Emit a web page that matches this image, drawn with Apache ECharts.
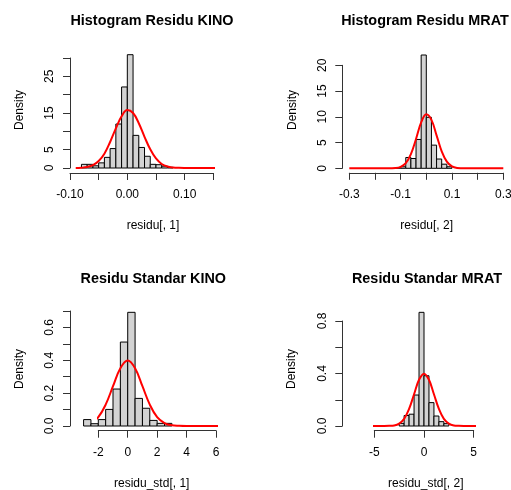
<!DOCTYPE html>
<html>
<head>
<meta charset="utf-8">
<script src="https://cdn.jsdelivr.net/npm/echarts@6/dist/echarts.min.js"></script>
<style>
  html, body { margin: 0; padding: 0; background: #fff; }
  #main { width: 511px; height: 490px; }
</style>
</head>
<body>
<div id="main"></div>
<script>
// histogram bin edges and densities
var edgesKino = [-0.08, -0.07, -0.06, -0.05, -0.04, -0.03, -0.02, -0.01, 0, 0.01, 0.02, 0.03, 0.04, 0.05, 0.06, 0.07, 0.08];
var densKino = [1.0, 1.0, 0.6, 1.4, 2.9, 5.3, 12.0, 22.1, 30.9, 8.9, 5.6, 3.2, 1.0, 0.9, 0.5, 0.2];

var edgesMrat = [-0.12, -0.10, -0.08, -0.06, -0.04, -0.02, 0, 0.02, 0.04, 0.06, 0.08, 0.10];
var densMrat = [0.15, 0.3, 2.1, 1.9, 5.6, 22.0, 9.9, 4.5, 1.8, 0.8, 0.3];

var edgesStdKino = [-3, -2.5, -2, -1.5, -1, -0.5, 0, 0.5, 1, 1.5, 2, 2.5, 3];
var densStdKino = [0.039, 0.014, 0.039, 0.101, 0.225, 0.511, 0.692, 0.168, 0.108, 0.034, 0.016, 0.016];

var edgesStdMrat = [-2.5, -2, -1.5, -1, -0.5, 0, 0.5, 1, 1.5, 2, 2.5];
var densStdMrat = [0.02, 0.08, 0.09, 0.236, 0.866, 0.383, 0.178, 0.076, 0.033, 0.018];

// red density curves
var curveKinoX = [-0.09, -0.08, -0.07, -0.06, -0.05, -0.04, -0.03, -0.02, -0.01, 0, 0.01, 0.02, 0.03, 0.04, 0.05, 0.06, 0.07, 0.08, 0.09, 0.10, 0.12, 0.15, 0.18];
var curveKinoY = [0.02, 0.08, 0.27, 0.76, 1.9, 3.9, 7.1, 10.8, 14.1, 15.8, 15.0, 12.2, 8.5, 5.1, 2.6, 1.1, 0.4, 0.13, 0.04, 0.01, 0, 0, 0];

var curveMratX = [-0.3, -0.2, -0.15, -0.12, -0.10, -0.08, -0.06, -0.04, -0.02, 0, 0.02, 0.04, 0.06, 0.08, 0.10, 0.12, 0.15, 0.2, 0.3];
var curveMratY = [0, 0, 0, 0.06, 0.29, 1.02, 2.77, 5.7, 8.9, 10.5, 9.4, 6.4, 3.3, 1.3, 0.38, 0.08, 0, 0, 0];

var curveStdKinoX = [-3.52, -3, -2.5, -2, -1.5, -1, -0.5, 0, 0.5, 1, 1.5, 2, 2.5, 3, 3.5, 4, 5, 6, 7.07];
var curveStdKinoY = [0.001, 0.004, 0.018, 0.054, 0.13, 0.242, 0.352, 0.399, 0.352, 0.242, 0.13, 0.054, 0.018, 0.004, 0.001, 0, 0, 0, 0];

var curveStdMratX = [-7.5, -5, -4, -3.5, -3, -2.5, -2, -1.5, -1, -0.5, 0, 0.5, 1, 1.5, 2, 2.5, 3, 3.5, 4, 5, 8];
var curveStdMratY = [0, 0, 0, 0.001, 0.004, 0.018, 0.054, 0.13, 0.242, 0.352, 0.399, 0.352, 0.242, 0.13, 0.054, 0.018, 0.004, 0.001, 0, 0, 0];

// tick labels (blank = hidden by R because of overlap)
var xLabelsKino = ['-0.10', '', '0.00', '', '0.10', ''];
var yLabelsKino = ['0', '5', '', '15', '', '25', ''];
var xLabelsMrat = ['-0.3', '', '-0.1', '', '0.1', '', '0.3'];
var yLabelsMrat = ['0', '5', '10', '15', '20'];
var xLabelsStdKino = ['-2', '0', '2', '4', '6'];
var yLabelsStdKino = ['0.0', '', '0.2', '', '0.4', '', '0.6', ''];
var xLabelsStdMrat = ['-5', '0', '5'];
var yLabelsStdMrat = ['0.0', '', '0.4', '', '0.8'];

var titles = ['Histogram Residu KINO', 'Histogram Residu MRAT', 'Residu Standar KINO', 'Residu Standar MRAT'];
var xNames = ['residu[, 1]', 'residu[, 2]', 'residu_std[, 1]', 'residu_std[, 2]'];

var FONT = '"Liberation Sans", Arial, sans-serif';
var AXIS_COLOR = '#333';

var panels = [
    {
        edges: edgesKino, dens: densKino, cx: curveKinoX, cy: curveKinoY
        , xMin: -0.1, xMax: 0.15, xStep: 0.05, xLabels: xLabelsKino
        , yMin: 0, yMax: 30, yStep: 5, yLabels: yLabelsKino
        , grid: { left: 70, top: 58, width: 143.3, height: 110 }
        , xOff: 5, yOff: 0, xMargin: 16
        , titlePos: [152, 21.5], xNamePos: [153, 226], yNamePos: [20, 110]
    }
    , {
        edges: edgesMrat, dens: densMrat, cx: curveMratX, cy: curveMratY
        , xMin: -0.3, xMax: 0.3, xStep: 0.1, xLabels: xLabelsMrat
        , yMin: 0, yMax: 20, yStep: 5, yLabels: yLabelsMrat
        , grid: { left: 349.3, top: 65.3, width: 154, height: 103 }
        , xOff: 4.5, yOff: 7, xMargin: 16
        , titlePos: [425, 21.5], xNamePos: [426.7, 226], yNamePos: [292.3, 110]
    }
    , {
        edges: edgesStdKino, dens: densStdKino, cx: curveStdKinoX, cy: curveStdKinoY
        , xMin: -2, xMax: 6, xStep: 2, xLabels: xLabelsStdKino
        , yMin: 0, yMax: 0.7, yStep: 0.1, yLabels: yLabelsStdKino
        , grid: { left: 98.3, top: 311, width: 117.7, height: 115 }
        , xOff: 4.7, yOff: 28.3, xMargin: 16
        , titlePos: [153.3, 279], xNamePos: [151.7, 484], yNamePos: [20, 369]
    }
    , {
        edges: edgesStdMrat, dens: densStdMrat, cx: curveStdMratX, cy: curveStdMratY
        , xMin: -5, xMax: 5, xStep: 5, xLabels: xLabelsStdMrat
        , yMin: 0, yMax: 0.8, yStep: 0.2, yLabels: yLabelsStdMrat
        , grid: { left: 374.3, top: 321, width: 99.4, height: 105 }
        , xOff: 4.7, yOff: 32, xMargin: 16
        , titlePos: [427, 279], xNamePos: [425.8, 484], yNamePos: [292, 369]
    }
];

function labelFormatter(labels, min, step) {
    return function (v) {
        var i = Math.round((v - min) / step);
        return labels[i] !== undefined ? labels[i] : '';
    };
}

function renderBin(params, api) {
    var p0 = api.coord([api.value(0), api.value(2)]);
    var p1 = api.coord([api.value(1), 0]);
    return {
        type: 'rect'
        , shape: { x: p0[0], y: p0[1], width: p1[0] - p0[0], height: p1[1] - p0[1] }
        , style: { fill: '#D3D3D3', stroke: '#000', lineWidth: 1 }
    };
}

var option = {
    backgroundColor: '#fff'
    , animation: false
    , grid: []
    , xAxis: []
    , yAxis: []
    , series: []
    , graphic: []
};

for (var i = 0; i < panels.length; i++) {
    var p = panels[i];
    option.grid.push({
        left: p.grid.left, top: p.grid.top, width: p.grid.width, height: p.grid.height
        , containLabel: false, outerBoundsMode: 'none'
    });
    option.xAxis.push({
        type: 'value', gridIndex: i, position: 'bottom'
        , min: p.xMin, max: p.xMax, interval: p.xStep
        , offset: p.xOff
        , axisLine: { show: true, onZero: false, lineStyle: { color: AXIS_COLOR, width: 1 } }
        , axisTick: { show: true, length: 7, lineStyle: { color: AXIS_COLOR, width: 1 } }
        , splitLine: { show: false }
        , axisLabel: {
            show: true, interval: 0, margin: p.xMargin, hideOverlap: false
            , showMinLabel: true, showMaxLabel: true
            , color: '#000', fontSize: 12, fontFamily: FONT
            , formatter: labelFormatter(p.xLabels, p.xMin, p.xStep)
        }
    });
    option.yAxis.push({
        type: 'value', gridIndex: i, position: 'left'
        , min: p.yMin, max: p.yMax, interval: p.yStep
        , offset: p.yOff
        , axisLine: { show: true, onZero: false, lineStyle: { color: AXIS_COLOR, width: 1 } }
        , axisTick: { show: true, length: 7, lineStyle: { color: AXIS_COLOR, width: 1 } }
        , splitLine: { show: false }
        , axisLabel: {
            show: true, interval: 0, margin: 14, rotate: 90, hideOverlap: false
            , showMinLabel: true, showMaxLabel: true
            , color: '#000', fontSize: 12, fontFamily: FONT
            , formatter: labelFormatter(p.yLabels, p.yMin, p.yStep)
        }
    });

    var bins = [];
    for (var k = 0; k < p.dens.length; k++) {
        bins.push([p.edges[k], p.edges[k + 1], p.dens[k]]);
    }
    option.series.push({
        type: 'custom', xAxisIndex: i, yAxisIndex: i
        , renderItem: renderBin
        , encode: { x: [0, 1], y: 2 }
        , clip: false, silent: true
        , data: bins
    });

    var pts = [];
    for (var k = 0; k < p.cx.length; k++) {
        pts.push([p.cx[k], p.cy[k]]);
    }
    option.series.push({
        type: 'line', xAxisIndex: i, yAxisIndex: i
        , data: pts
        , smooth: 0.4
        , showSymbol: false, symbol: 'none'
        , clip: false, silent: true
        , lineStyle: { color: '#FF0000', width: 2 }
        , z: 5
    });

    option.graphic.push({
        type: 'text', x: p.titlePos[0], y: p.titlePos[1]
        , style: { text: titles[i], font: 'bold 14.4px ' + FONT, fill: '#000', align: 'center', verticalAlign: 'middle' }
    });
    option.graphic.push({
        type: 'text', x: p.xNamePos[0], y: p.xNamePos[1]
        , style: { text: xNames[i], font: '12px ' + FONT, fill: '#000', align: 'center', verticalAlign: 'middle' }
    });
    option.graphic.push({
        type: 'text', x: p.yNamePos[0], y: p.yNamePos[1], rotation: Math.PI / 2
        , style: { text: 'Density', font: '12px ' + FONT, fill: '#000', align: 'center', verticalAlign: 'middle' }
    });
}

var myChart = echarts.init(document.getElementById('main'), null, { renderer: 'canvas' });
myChart.setOption(option);
</script>
</body>
</html>
